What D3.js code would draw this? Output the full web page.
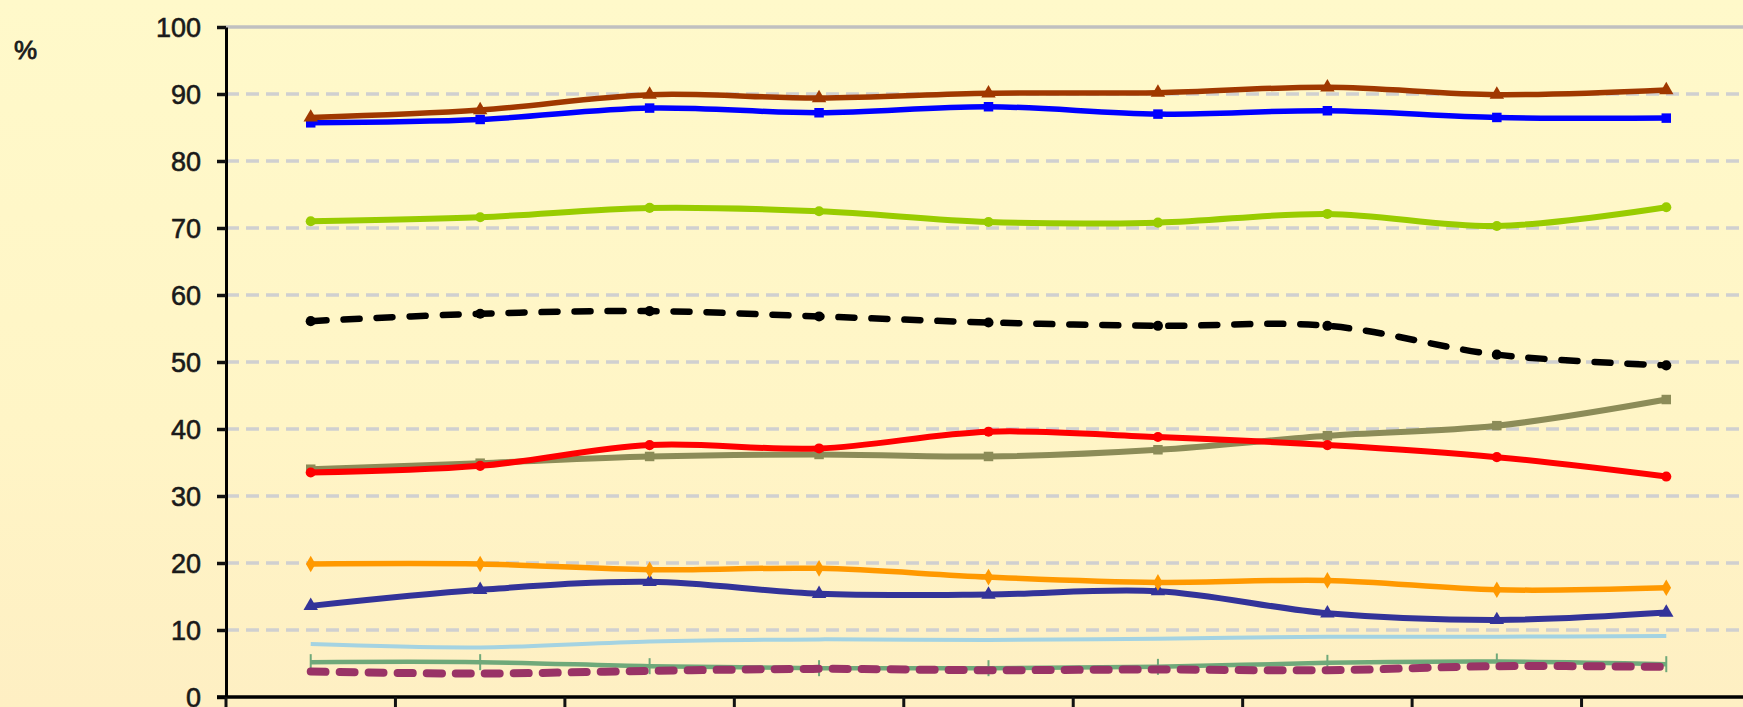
<!DOCTYPE html>
<html>
<head>
<meta charset="utf-8">
<script src="https://cdn.jsdelivr.net/npm/d3@7"></script>
<style>
  html, body {
    margin: 0;
    padding: 0;
    width: 1743px;
    height: 707px;
    overflow: hidden;
    background: linear-gradient(to bottom, #fff9ca 0%, #fff5c6 60%, #feefc3 100%);
  }
  svg { display: block; }
  .tick text {
    font-family: "Liberation Sans", Arial, sans-serif;
    font-size: 27px;
    fill: #1a1a1a;
    stroke: #1a1a1a;
    stroke-width: 0.6px;
  }
</style>
</head>
<body>
<div id="chart"></div>
<script>
// categories along the x axis (labels are below the visible area)
let categories = ["1", "2", "3", "4", "5", "6", "7", "8", "9"];
let yTicks = [0, 10, 20, 30, 40, 50, 60, 70, 80, 90, 100];

// series values, one per category
let brownValues = [86.5, 87.6, 89.9, 89.4, 90.1, 90.2, 91.0, 89.9, 90.6];
let blueValues = [85.7, 86.2, 87.9, 87.2, 88.1, 87.0, 87.5, 86.5, 86.4];
let limeValues = [71.0, 71.6, 73.0, 72.5, 70.9, 70.8, 72.1, 70.3, 73.1];
let blackValues = [56.1, 57.2, 57.6, 56.8, 55.9, 55.4, 55.4, 51.1, 49.5];
let redValues = [33.5, 34.5, 37.6, 37.1, 39.6, 38.8, 37.6, 35.8, 32.9];
let oliveValues = [34.0, 34.9, 35.9, 36.2, 35.9, 36.9, 39.0, 40.5, 44.4];
let orangeValues = [19.85, 19.85, 19.0, 19.2, 17.9, 17.1, 17.4, 16.0, 16.3];
let navyValues = [13.6, 16.0, 17.2, 15.4, 15.3, 15.8, 12.5, 11.5, 12.6];
let lightBlueValues = [7.9, 7.4, 8.3, 8.6, 8.5, 8.7, 9.0, 9.0, 9.1];
let seaGreenValues = [5.2, 5.2, 4.6, 4.3, 4.3, 4.5, 5.1, 5.3, 4.9];
let purpleValues = [3.8, 3.5, 3.9, 4.2, 4.0, 4.1, 4.0, 4.6, 4.5];

let series = [
  { values: lightBlueValues, color: "#a4d3e2", width: 4, dash: null, marker: "none" },
  { values: seaGreenValues, color: "#6fa97a", width: 4.5, dash: null, marker: "bar" },
  { values: purpleValues, color: "#993366", width: 8, dash: "15,14", marker: "none" },
  { values: navyValues, color: "#333399", width: 6, dash: null, marker: "triangle" },
  { values: orangeValues, color: "#ff9900", width: 5.5, dash: null, marker: "diamond" },
  { values: oliveValues, color: "#8c8c58", width: 6, dash: null, marker: "square" },
  { values: redValues, color: "#ff0000", width: 6, dash: null, marker: "circle" },
  { values: blackValues, color: "#000000", width: 6.5, dash: "16,17", marker: "circle" },
  { values: limeValues, color: "#99cc00", width: 6, dash: null, marker: "circle" },
  { values: blueValues, color: "#0000ff", width: 5.5, dash: null, marker: "square" },
  { values: brownValues, color: "#a03800", width: 5.5, dash: null, marker: "triangle" }
];

let width = 1743;
let height = 707;
let margin = { top: 27, left: 226, plotRight: 1751, bottom: 697 };

let svg = d3.select("#chart").append("svg")
  .attr("width", width)
  .attr("height", height);

let x = d3.scaleBand()
  .domain(categories)
  .range([margin.left, margin.plotRight])
  .padding(0);

let y = d3.scaleLinear()
  .domain([0, 100])
  .range([margin.bottom, margin.top]);

// gridlines
svg.append("g")
  .selectAll("line")
    .data(yTicks.filter(function(d) { return d > 0; }))
  .enter().append("line")
    .attr("x1", margin.left)
    .attr("x2", width)
    .attr("y1", function(d) { return y(d); })
    .attr("y2", function(d) { return y(d); })
    .attr("stroke", function(d) { return d == 100 ? "#c0c0c0" : "#d0d0d0"; })
    .attr("stroke-width", 3.5)
    .attr("stroke-dasharray", function(d) { return d == 100 ? null : "13,7"; });

// y axis
let yAxis = d3.axisLeft(y)
  .tickValues(yTicks)
  .tickSize(9)
  .tickPadding(16)
  .tickSizeOuter(0);

let yAxisGroup = svg.append("g")
  .attr("transform", "translate(" + margin.left + ",0)")
  .call(yAxis);
yAxisGroup.select(".domain")
  .attr("stroke", "#000")
  .attr("stroke-width", 3);
yAxisGroup.selectAll(".tick line")
  .attr("stroke", "#111")
  .attr("stroke-width", 3.5);
yAxisGroup.selectAll(".tick text")
  .attr("dy", "0.36em");

// x axis: ticks at band boundaries
svg.append("line")
  .attr("x1", margin.left - 9)
  .attr("x2", margin.plotRight)
  .attr("y1", y(0))
  .attr("y2", y(0))
  .attr("stroke", "#000")
  .attr("stroke-width", 3.5);

svg.append("g")
  .selectAll("line")
    .data(categories)
  .enter().append("line")
    .attr("x1", function(d) { return x(d); })
    .attr("x2", function(d) { return x(d); })
    .attr("y1", y(0))
    .attr("y2", y(0) + 14)
    .attr("stroke", "#111")
    .attr("stroke-width", 3);

// % label
svg.append("text")
  .attr("x", 14)
  .attr("y", 59)
  .style("font-family", "'Liberation Sans', Arial, sans-serif")
  .style("font-size", "26px")
  .style("fill", "#1a1a1a")
  .style("stroke", "#1a1a1a")
  .style("stroke-width", "0.8px")
  .text("%");

// lines
let cx = function(i) { return x(categories[i]) + x.bandwidth() / 2; };

let line = d3.line()
  .x(function(d, i) { return cx(i); })
  .y(function(d) { return y(d); })
  .curve(d3.curveCatmullRom.alpha(0.5));

let seriesGroups = svg.append("g")
  .selectAll(".series")
    .data(series)
  .enter().append("g")
    .classed("series", true);

seriesGroups.append("path")
  .attr("d", function(d) { return line(d.values); })
  .attr("fill", "none")
  .attr("stroke", function(d) { return d.color; })
  .attr("stroke-width", function(d) { return d.width; })
  .attr("stroke-dasharray", function(d) { return d.dash; })
  .attr("stroke-linecap", function(d) { return d.dash ? "round" : "butt"; })
  .attr("stroke-linejoin", "round");

let symbolTypes = {
  circle: d3.symbolCircle,
  square: d3.symbolSquare,
  triangle: d3.symbolTriangle,
  diamond: d3.symbolDiamond
};
let symbolSizes = { circle: 80, square: 90, triangle: 90, diamond: 80 };

seriesGroups.each(function(s) {
  let g = d3.select(this);
  if (s.marker == "none") return;
  if (s.marker == "bar") {
    g.selectAll(".mark")
        .data(s.values)
      .enter().append("line")
        .attr("x1", function(d, i) { return cx(i); })
        .attr("x2", function(d, i) { return cx(i); })
        .attr("y1", function(d) { return y(d) - 8; })
        .attr("y2", function(d) { return y(d) + 8; })
        .attr("stroke", s.color)
        .attr("stroke-width", 2);
    return;
  }
  g.selectAll(".mark")
      .data(s.values)
    .enter().append("path")
      .attr("transform", function(d, i) { return "translate(" + cx(i) + "," + y(d) + ")"; })
      .attr("d", d3.symbol().type(symbolTypes[s.marker]).size(symbolSizes[s.marker]))
      .attr("fill", s.color);
});
</script>
</body>
</html>
